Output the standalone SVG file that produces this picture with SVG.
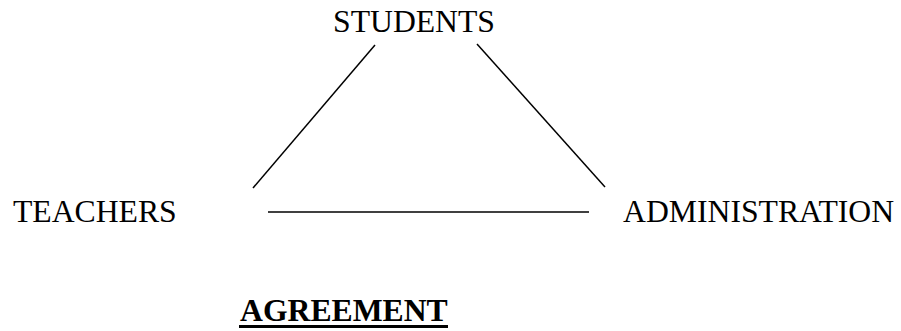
<svg xmlns="http://www.w3.org/2000/svg" width="901" height="331" viewBox="0 0 901 331">
<style>
.lbl{font-family:"Liberation Serif","Times New Roman",serif;font-size:31.7px;fill:#000}
.b{font-weight:bold}
.c{stroke:#000;stroke-width:1.5;fill:none}
</style>
<rect width="901" height="331" fill="#fff"/>
<g id="students"><text class="lbl" x="414" y="32" text-anchor="middle">STUDENTS</text></g>
<g id="teachers"><text class="lbl" x="13" y="222">TEACHERS</text></g>
<g id="administration"><text class="lbl" x="623" y="222">ADMINISTRATION</text></g>
<g id="agreement"><text class="lbl b" x="240" y="321">AGREEMENT</text><line x1="239" y1="326.5" x2="448" y2="326.5" stroke="#000" stroke-width="3"/></g>
<g id="connectors">
<line class="c" x1="375" y1="45" x2="253" y2="188"/>
<line class="c" x1="477" y1="44" x2="605" y2="187"/>
<line class="c" x1="268" y1="212" x2="589" y2="212"/>
</g>
</svg>
